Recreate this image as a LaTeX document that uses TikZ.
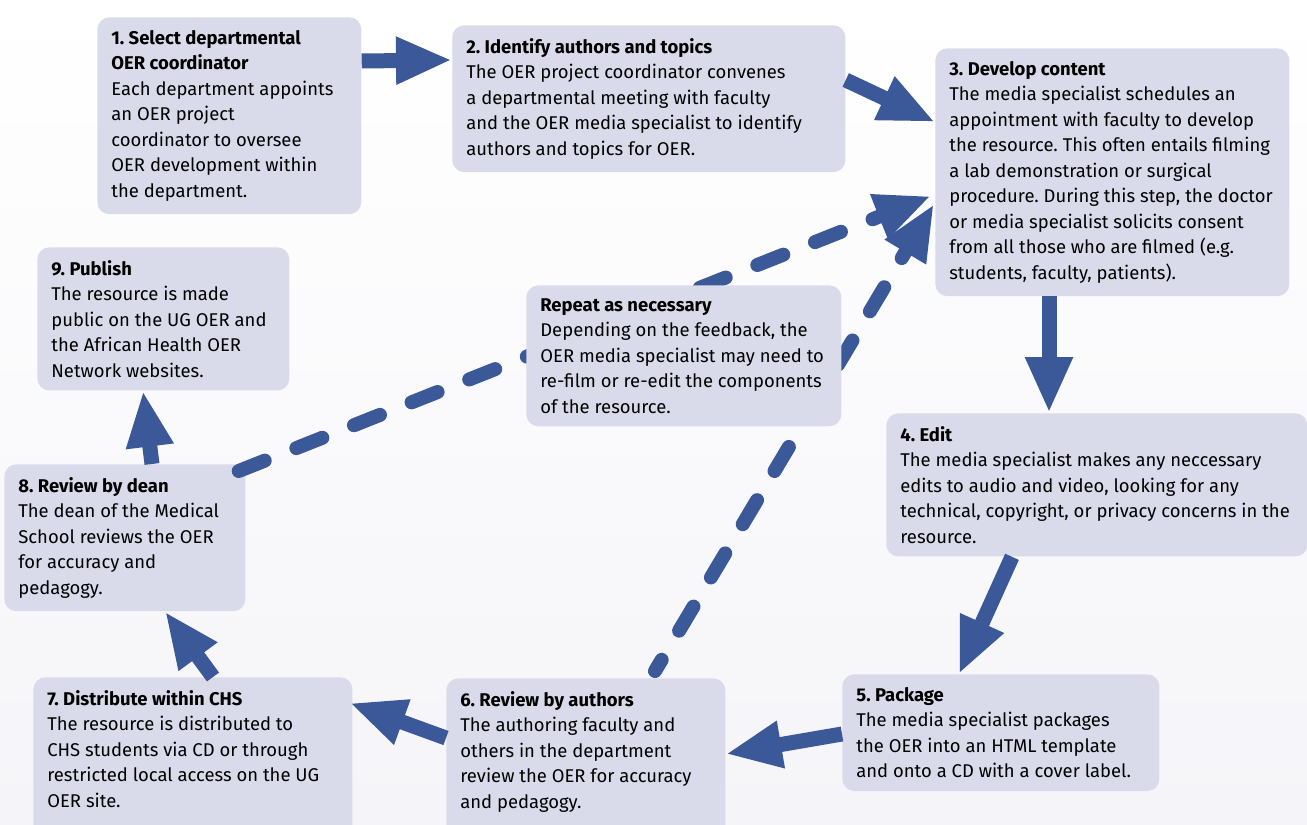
\documentclass[tikz,border=0pt]{standalone}
\usepackage{fontspec}
\setmainfont{Fira Sans}
\usetikzlibrary{arrows.meta}
\definecolor{boxfill}{RGB}{218,219,234}
\definecolor{flowblue}{RGB}{59,89,152}
\definecolor{bggray}{RGB}{245,245,249}
\frenchspacing

\begin{document}
\begin{tikzpicture}[x=0.2mm, y=-0.2mm,
    stage/.style={fill=boxfill, rounded corners=2.4mm, anchor=north west, align=flush left,
        inner xsep=2.8mm, inner ysep=2.6mm, font=\fontsize{10.5pt}{14.5pt}\selectfont},
    flow/.style={flowblue, line width=3mm, -{Triangle[length=11.2mm, width=8.8mm]}},
    loopback/.style={flowblue, line width=2.8mm, line cap=round,
        dash pattern=on 5.6mm off 6.8mm, -{Triangle[length=11.2mm, width=8.8mm]}}]
    % canvas
    \useasboundingbox (0,0) rectangle (1307,824);
    \clip (0,0) rectangle (1307,824);
    \shade[top color=white, bottom color=bggray] (0,0) rectangle (1307,824);

    % TOP ROW
    \node[stage, text width=47.2mm] (select) at (97,17)
        {\textbf{1. Select departmental}\\\textbf{OER coordinator}\\Each department appoints\\an OER project\\coordinator to oversee\\OER development within\\the department.};
    \node[stage, text width=73mm] (identify) at (452,25)
        {\textbf{2. Identify authors and topics}\\The OER project coordinator convenes\\a departmental meeting with faculty\\and the OER media specialist to identify\\authors and topics for OER.};
    \node[stage, text width=65.2mm] (develop) at (935,48)
        {\textbf{3. Develop content}\\The media specialist schedules an\\appointment with faculty to develop\\the resource. This often entails filming\\a lab demonstration or surgical\\procedure. During this step, the doctor\\or media specialist solicits consent\\from all those who are filmed (e.g.\\students, faculty, patients).};

    % RIGHT SIDE
    \node[stage, text width=78.6mm] (edit) at (886,413)
        {\textbf{4. Edit}\\The media specialist makes any neccessary\\edits to audio and video, looking for any\\technical, copyright, or privacy concerns in the\\resource.};
    \node[stage, text width=57.8mm] (package) at (842,674)
        {\textbf{5. Package}\\The media specialist packages\\the OER into an HTML template\\and onto a CD with a cover label.};

    % BOTTOM ROW (runs off the lower edge)
    \node[stage, text width=50.2mm] (authors) at (446,678)
        {\textbf{6. Review by authors}\\The authoring faculty and\\others in the department\\review the OER for accuracy\\and pedagogy.\\\mbox{}};
    \node[stage, text width=58.2mm] (distribute) at (33,677)
        {\textbf{7. Distribute within CHS}\\The resource is distributed to\\CHS students via CD or through\\restricted local access on the UG\\OER site.\\\mbox{}};

    % LEFT SIDE
    \node[stage, text width=42.6mm] (dean) at (4,464)
        {\textbf{8. Review by dean}\\The dean of the Medical\\School reviews the OER\\for accuracy and\\pedagogy.};
    \node[stage, text width=44.8mm] (publish) at (37,247)
        {\textbf{9. Publish}\\The resource is made\\public on the UG OER and\\the African Health OER\\Network websites.};

    % main flow
    \draw[flow] ([shift={(0,44)}]select.north east) -- ([shift={(0,35)}]identify.north west);
    \draw[flow] ([shift={(0,55)}]identify.north east) -- ([shift={(0,74)}]develop.north west);
    \draw[flow] ([shift={(114,0)}]develop.south west) -- ([shift={(163,0)}]edit.north west);
    \draw[flow] ([shift={(126,0)}]edit.south west) -- ([shift={(117,0)}]package.north west);
    \draw[flow] ([shift={(0,60)}]package.north west) -- ([shift={(0,76)}]authors.north east);
    \draw[flow] ([shift={(0,60)}]authors.north west) -- ([shift={(-3,26)}]distribute.north east);
    \draw[flow] ([shift={(180,0)}]distribute.north west) -- ([shift={(161,0)}]dean.south west);
    \draw[flow] ([shift={(148,0)}]dean.north west) -- ([shift={(106,0)}]publish.south west);

    % feedback loops back to step 3
    \draw[loopback] ([shift={(-7,7)}]dean.north east) -- ([shift={(-4,148)}]develop.north west);
    \draw[loopback, dash phase=3mm] ([shift={(209,-7)}]authors.north west) -- ([shift={(-1,156)}]develop.north west);

    \node[stage, text width=57.4mm] (repeat) at (526,285)
        {\textbf{Repeat as necessary}\\Depending on the feedback, the\\OER media specialist may need to\\re-film or re-edit the components\\of the resource.};
\end{tikzpicture}
\end{document}
